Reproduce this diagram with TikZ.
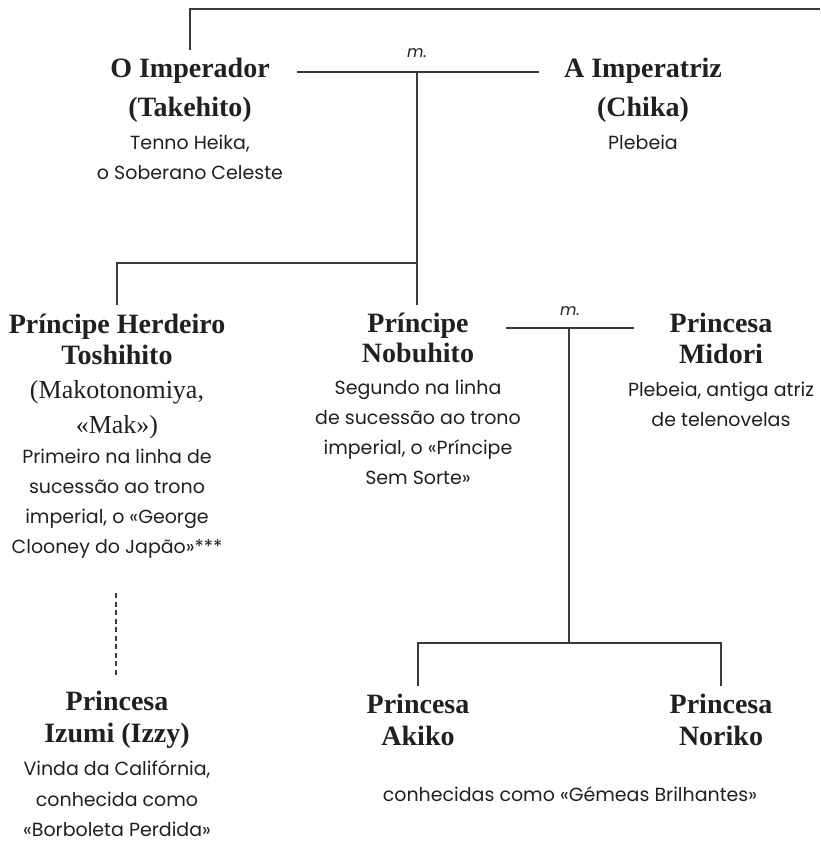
\documentclass[tikz,border=0pt]{standalone}
\usepackage{fontspec}
\newfontfamily\HeadFam{Liberation Serif}
\newfontfamily\BodyFam{Poppins}
\newcommand\NameFont{\HeadFam\bfseries\fontsize{28}{30}\selectfont}
\newcommand\ParenFont{\HeadFam\fontsize{26}{30}\selectfont}
\newcommand\DescFont{\BodyFam\fontsize{19}{30}\selectfont}
\newcommand\PersonFont{\DescFont\lineskiplimit=-50pt\relax}
\definecolor{ink}{HTML}{231F20}
\definecolor{rule}{HTML}{3A3A3A}
\tikzset{
  person/.style={align=center, inner sep=0pt, anchor=base, text=ink,
    font=\PersonFont},
  note/.style={inner sep=0pt, anchor=base, text=ink, font=\DescFont},
  mlabel/.style={inner sep=0pt, anchor=base, text=ink, font=\BodyFam\itshape\fontsize{16}{20}\selectfont},
  link/.style={draw=rule, line width=1.2pt},
  dlink/.style={draw=rule, line width=1.2pt, dash pattern=on 5pt off 3.5pt}
}
\begin{document}
\begin{tikzpicture}[x=1pt,y=-1pt]
\useasboundingbox (0,0) rectangle (820,843);
% persons (anchored at the baseline of their last line)
\node[person] (emp) at (190,179) {\NameFont O Imperador\\[9pt]\NameFont (Takehito)\\[3pt]\DescFont Tenno Heika,\\\DescFont o Soberano Celeste};
\node[person] (emps) at (643,149) {\NameFont A Imperatriz\\[9pt]\NameFont (Chika)\\[3pt]\DescFont Plebeia};
\node[person] (tosh) at (117,553) {\NameFont Príncipe Herdeiro\\[1pt]\NameFont Toshihito\\[4pt]\ParenFont (Makotonomiya,\\[5pt]\ParenFont «Mak»)\\\DescFont Primeiro na linha de\\\DescFont sucessão ao trono\\\DescFont imperial, o «George\\\DescFont Clooney do Japão»***};
\node[person] (nob) at (418,484) {\NameFont Príncipe\\\NameFont Nobuhito\\[2pt]\DescFont Segundo na linha\\\DescFont de sucessão ao trono\\\DescFont imperial, o «Príncipe\\\DescFont Sem Sorte»};
\node[person] (mid) at (721,426) {\NameFont Princesa\\[1pt]\NameFont Midori\\[3pt]\DescFont Plebeia, antiga atriz\\\DescFont de telenovelas};
\node[person] (izu) at (117,836) {\NameFont Princesa\\[2pt]\NameFont Izumi (Izzy)\\[3pt]\DescFont Vinda da Califórnia,\\[1pt]\DescFont conhecida como\\\DescFont «Borboleta Perdida»};
\node[person] (aki) at (418,745) {\NameFont Princesa\\[2pt]\NameFont Akiko};
\node[person] (nor) at (721,745) {\NameFont Princesa\\[2pt]\NameFont Noriko};
\node[note] (gem) at (570,801) {conhecidas como «Gémeas Brilhantes»};
\node[mlabel] (m1) at (417,58) {m.};
\node[mlabel] (m2) at (570,315) {m.};
% connector points
\coordinate (topL) at (190,9);
\coordinate (topR) at (820,9);
\coordinate (empUp) at (190,50);
\coordinate (m1L) at (297,72);
\coordinate (m1R) at (539,72);
\coordinate (m1C) at (417,72);
\coordinate (sibR) at (417,263);
\coordinate (sibL) at (117,263);
\coordinate (toshUp) at (117,305);
\coordinate (nobUp) at (417,305);
\coordinate (m2L) at (506,328);
\coordinate (m2R) at (634,328);
\coordinate (m2C) at (569,328);
\coordinate (twC) at (569,643);
\coordinate (twL) at (418,643);
\coordinate (twR) at (721,643);
\coordinate (akiUp) at (418,686);
\coordinate (norUp) at (721,686);
\coordinate (toshDn) at (116,593);
\coordinate (izuUp) at (116,677);
% connectors
\draw[link] (empUp) -- (topL) -- (topR);
\draw[link] (m1L) -- (m1R);
\draw[link] (m1C) -- (nobUp);
\draw[link] (sibR) -- (sibL) -- (toshUp);
\draw[link] (m2L) -- (m2R);
\draw[link] (m2C) -- (twC);
\draw[link] (akiUp) -- (twL) -- (twR) -- (norUp);
\draw[dlink] (toshDn) -- (izuUp);
\end{tikzpicture}
\end{document}
